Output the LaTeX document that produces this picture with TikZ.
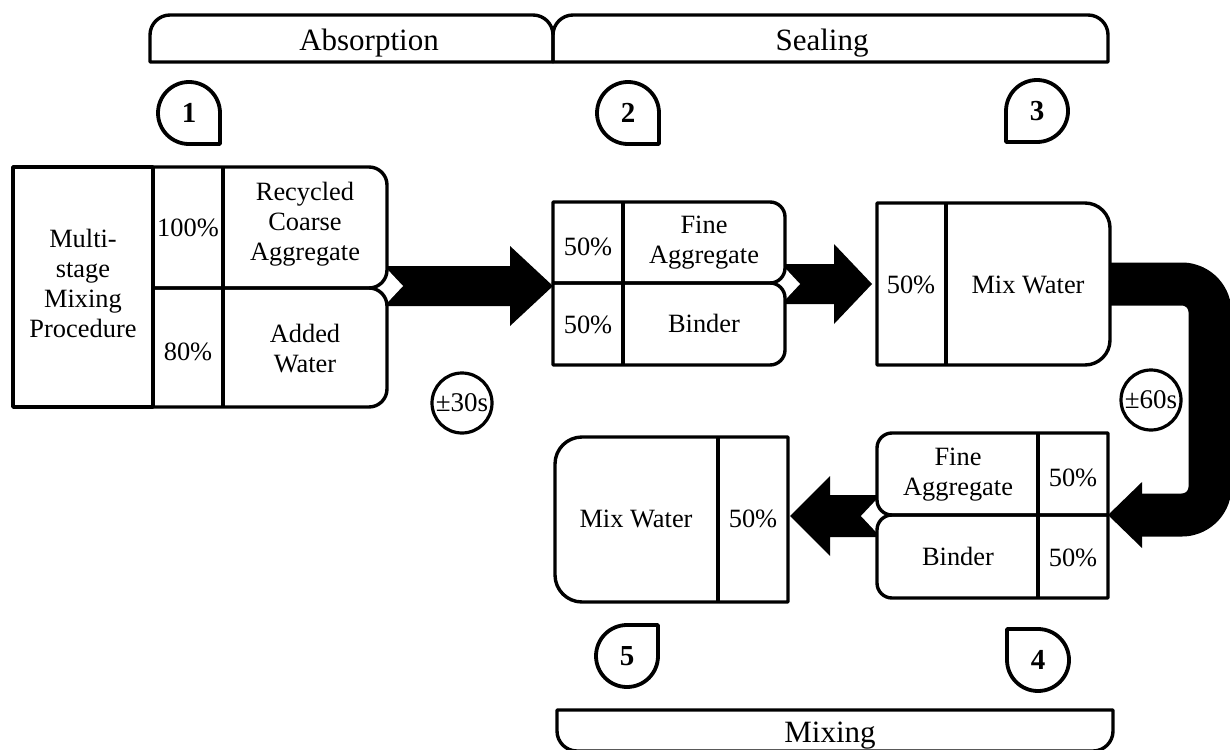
\documentclass[tikz,border=0pt]{standalone}
\usepackage{fontspec}
\setmainfont{Liberation Serif}
\usetikzlibrary{calc}
\begin{document}
\begin{tikzpicture}[x=0.5pt,y=-0.5pt,line join=round]
\tikzset{
  boxline/.style={line width=1.7pt},
  txt/.style={font=\fontsize{13.2}{15}\selectfont,align=center,inner sep=0pt},
  bantxt/.style={font=\fontsize{15.5}{18}\selectfont,inner sep=0pt,anchor=base},
  markn/.style={circle,minimum size=31pt,inner sep=0pt,outer sep=0pt,font=\fontsize{14.5}{16}\selectfont\bfseries},
  markline/.style={line width=1.9pt},
  timec/.style={circle,draw,line width=1.6pt,minimum size=30pt,inner sep=0pt,font=\fontsize{13.5}{15}\selectfont},
  diam/.style={fill=white,draw=none},
}
\useasboundingbox (0,0) rectangle (1230,749);
\clip (0,0) rectangle (1230,749);

% ---------- banners ----------
\draw[boxline] (150,62) -- (150,35) arc[start angle=180,end angle=90,radius=10pt] -- (533,15) arc[start angle=90,end angle=0,radius=10pt] -- (553,62) -- cycle;
\draw[boxline] (553,62) -- (553,35) arc[start angle=180,end angle=90,radius=10pt] -- (1088,15) arc[start angle=90,end angle=0,radius=10pt] -- (1108,62) -- cycle;
\node[bantxt] (absorb) at (369,51) {Absorption};
\node[bantxt] (seal) at (822,51) {Sealing};

\draw[boxline] (557,710) -- (1113,710) -- (1113,731) arc[start angle=0,end angle=-90,radius=10pt] -- (577,751) arc[start angle=270,end angle=180,radius=10pt] -- cycle;
\node[bantxt] (mix) at (830,742) {Mixing};

% ---------- step markers ----------
\node[markn] (m1) at (189,113) {1};
\draw[markline] (m1.east) |- (m1.south) arc[start angle=270,end angle=0,radius=15.5pt];
\node[markn] (m2) at (628,113) {2};
\draw[markline] (m2.east) |- (m2.south) arc[start angle=270,end angle=0,radius=15.5pt];
\node[markn] (m3) at (1037,111) {3};
\draw[markline] (m3.west) |- (m3.south) arc[start angle=-90,end angle=180,radius=15.5pt];
\node[markn] (m4) at (1038,660) {4};
\draw[markline] (m4.west) |- (m4.north) arc[start angle=90,end angle=-180,radius=15.5pt];
\node[markn] (m5) at (627,656) {5};
\draw[markline] (m5.north) -| (m5.east) arc[start angle=0,end angle=-270,radius=15.5pt];

% ---------- time circles ----------
\node[timec] (t30) at (462,403) {±30s};
\node[timec] (t60) at (1151,400) {±60s};

% ---------- arrow connectors ----------
\coordinate (a1s) at (387,286);
\coordinate (a1e) at (553,286);
\fill ($(a1s)+(0,-20)$) -- ($(a1e)+(-43,-20)$) -- ($(a1e)+(-43,-40)$) -- (a1e)
      -- ($(a1e)+(-43,40)$) -- ($(a1e)+(-43,20)$) -- ($(a1s)+(0,20)$) -- cycle;
\fill[diam] ($(a1s)+(-16,0)$) -- ($(a1s)+(0,-17)$) -- ($(a1s)+(16,0)$) -- ($(a1s)+(0,17)$) -- cycle;

\coordinate (a2s) at (785,284);
\coordinate (a2e) at (872,284);
\fill ($(a2s)+(0,-20)$) -- ($(a2e)+(-38,-20)$) -- ($(a2e)+(-38,-40)$) -- (a2e)
      -- ($(a2e)+(-38,40)$) -- ($(a2e)+(-38,20)$) -- ($(a2s)+(0,20)$) -- cycle;
\fill[diam] ($(a2s)+(-15,0)$) -- ($(a2s)+(0,-16)$) -- ($(a2s)+(15,0)$) -- ($(a2s)+(0,16)$) -- cycle;

\coordinate (us) at (1110,284);
\coordinate (ue) at (1108,515);
\draw[line width=21.5pt,rounded corners=14pt] (us) -- (1210,284) -- (1210,515) -- ($(ue)+(33,0)$);
\fill ($(ue)+(34,-33)$) -- (ue) -- ($(ue)+(34,33)$) -- cycle;

\coordinate (a4s) at (877,516);
\coordinate (a4e) at (790,516);
\fill ($(a4s)+(0,-21)$) -- ($(a4e)+(40,-21)$) -- ($(a4e)+(40,-40)$) -- (a4e)
      -- ($(a4e)+(40,40)$) -- ($(a4e)+(40,21)$) -- ($(a4s)+(0,21)$) -- cycle;
\fill[diam] ($(a4s)+(-16,0)$) -- ($(a4s)+(0,-17)$) -- ($(a4s)+(16,0)$) -- ($(a4s)+(0,17)$) -- cycle;

% ---------- box 1 ----------
\draw[boxline] (13,167) rectangle (153,407);
\draw[boxline] (153,167) -- (369,167) arc[start angle=90,end angle=0,radius=9pt] -- (387,270) arc[start angle=0,end angle=-90,radius=9pt] -- (153,288);
\draw[boxline] (153,288) -- (369,288) arc[start angle=90,end angle=0,radius=9pt] -- (387,389) arc[start angle=0,end angle=-90,radius=9pt] -- (153,407);
\draw[boxline] (223,167) -- (223,407);
\node[txt] (msm) at (83,283) {Multi-\\stage\\Mixing\\Procedure};
\node[txt] (p100) at (188,228) {100\%};
\node[txt] (rca) at (305,224) {Recycled\\Coarse\\Aggregate};
\node[txt] (p80) at (188,352) {80\%};
\node[txt] (aw) at (305,349) {Added\\Water};

% ---------- box 2 ----------
\draw[boxline] (553,202) -- (770,202) arc[start angle=90,end angle=0,radius=7.5pt] -- (785,268) arc[start angle=0,end angle=-90,radius=7.5pt] -- (553,283) -- cycle;
\draw[boxline] (553,283) -- (770,283) arc[start angle=90,end angle=0,radius=7.5pt] -- (785,350) arc[start angle=0,end angle=-90,radius=7.5pt] -- (553,365) -- cycle;
\draw[boxline] (623,202) -- (623,365);
\node[txt] (f2p) at (588,247) {50\%};
\node[txt] (fa2) at (704,243) {Fine\\Aggregate};
\node[txt] (b2p) at (588,325) {50\%};
\node[txt] (bd2) at (704,323) {Binder};

% ---------- box 3 ----------
\draw[boxline] (877,203) -- (1085,203) arc[start angle=90,end angle=0,radius=12.5pt] -- (1110,340) arc[start angle=0,end angle=-90,radius=12.5pt] -- (877,365) -- cycle;
\draw[boxline] (946,203) -- (946,365);
\node[txt] (w3p) at (911,285) {50\%};
\node[txt] (mw3) at (1028,285) {Mix Water};

% ---------- box 4 ----------
\draw[boxline] (1108,433) -- (892,433) arc[start angle=90,end angle=180,radius=7.5pt] -- (877,500) arc[start angle=180,end angle=270,radius=7.5pt] -- (1108,515) -- cycle;
\draw[boxline] (1108,515) -- (892,515) arc[start angle=90,end angle=180,radius=7.5pt] -- (877,583) arc[start angle=180,end angle=270,radius=7.5pt] -- (1108,598) -- cycle;
\draw[boxline] (1038,433) -- (1038,598);
\node[txt] (fa4) at (958,475) {Fine\\Aggregate};
\node[txt] (f4p) at (1073,478) {50\%};
\node[txt] (bd4) at (958,556) {Binder};
\node[txt] (b4p) at (1073,558) {50\%};

% ---------- box 5 ----------
\draw[boxline] (788,437) -- (582,437) arc[start angle=90,end angle=180,radius=13.5pt] -- (555,575) arc[start angle=180,end angle=270,radius=13.5pt] -- (788,602) -- cycle;
\draw[boxline] (718,437) -- (718,602);
\node[txt] (mw5) at (636,519) {Mix Water};
\node[txt] (w5p) at (753,519) {50\%};
\end{tikzpicture}
\end{document}
